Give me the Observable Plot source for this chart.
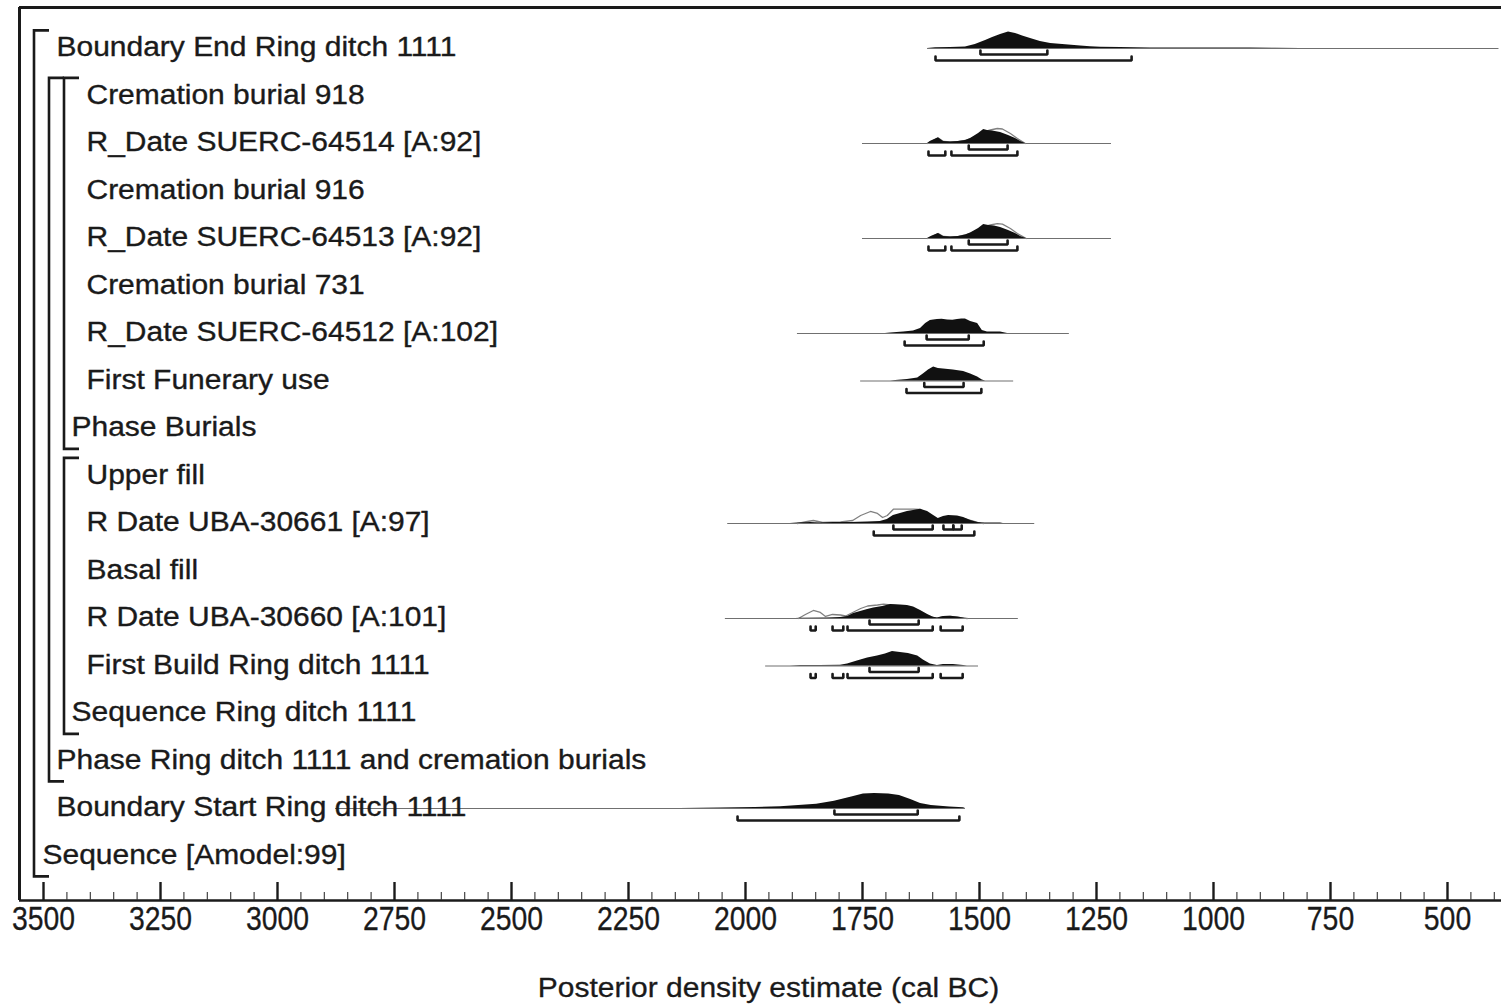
<!DOCTYPE html>
<html><head><meta charset="utf-8">
<script src="https://cdn.jsdelivr.net/npm/d3@7"></script>
<script src="https://cdn.jsdelivr.net/npm/@observablehq/plot@0.6"></script>
<style>html,body{margin:0;padding:0;background:#fff}</style>
</head><body><div id="chart"></div>
<script>
// ---------- data ----------
const rowLabels = [
  "Boundary End Ring ditch 1111",
  "Cremation burial 918",
  "R_Date SUERC-64514 [A:92]",
  "Cremation burial 916",
  "R_Date SUERC-64513 [A:92]",
  "Cremation burial 731",
  "R_Date SUERC-64512 [A:102]",
  "First Funerary use",
  "Phase Burials",
  "Upper fill",
  "R Date UBA-30661 [A:97]",
  "Basal fill",
  "R Date UBA-30660 [A:101]",
  "First Build Ring ditch 1111",
  "Sequence Ring ditch 1111",
  "Phase Ring ditch 1111 and cremation burials",
  "Boundary Start Ring ditch 1111",
  "Sequence [Amodel:99]"
];
const rowDepths = [1,3,3,3,3,3,3,3,2,3,3,3,3,3,2,1,1,0];
// groups: first child row, group label row, nesting depth
const groupFirst = [0, 1, 1, 9];
const groupLast  = [17, 15, 8, 14];
const groupDepth = [0, 1, 2, 2];

// posterior (black) and likelihood (outline) densities: [cal BC, relative density]
const endPost = [[1611,0],[1594,0.8],[1562,1],[1530,1.5],[1509,4],[1487,8],[1472,11],[1455,14],[1438,16.5],[1423,15],[1408,12.5],[1391,10],[1370,7],[1348,5],[1316,3.8],[1284,2.5],[1263,1.8],[1241,1.3],[1199,1],[1135,0.6],[1028,0.5],[921,0.4],[868,0.2],[814,0]];
const s64514Post = [[1611,0],[1605,2],[1588,5.7],[1577,2],[1562,1.5],[1545,2],[1530,3],[1519,5],[1502,10],[1491,14],[1483,13],[1472,12.5],[1455,11],[1438,8],[1423,5],[1412,2],[1402,0]];
const s64514Like = [[1611,0],[1605,2],[1588,5.5],[1577,2],[1562,1.5],[1545,2],[1530,3],[1519,5],[1502,9],[1491,11.5],[1477,13.5],[1462,15],[1451,14.5],[1434,10],[1419,5],[1402,0]];
const s64513Post = [[1611,0],[1603,2],[1588,5],[1577,2],[1562,1.5],[1545,2],[1530,3.5],[1519,5.5],[1502,10],[1491,14],[1480,13],[1468,12.5],[1455,11],[1438,8],[1423,5],[1412,2],[1400,0]];
const s64513Like = [[1611,0],[1603,2],[1588,5],[1577,2],[1562,1.5],[1545,2],[1530,3.5],[1519,5.5],[1502,9],[1491,11.5],[1477,13.5],[1462,14.8],[1451,14.3],[1434,10],[1419,5],[1400,0]];
const s64512Post = [[1701,0],[1690,0.5],[1662,1.5],[1641,2.5],[1626,5],[1615,10],[1605,13],[1598,13.5],[1590,14],[1580,14.2],[1568,13.5],[1557,13.2],[1547,14],[1538,14.6],[1530,14.5],[1519,12],[1504,10],[1494,3],[1483,1.5],[1455,1.5],[1440,0]];
const funeraryPost = [[1690,0],[1679,0.5],[1654,1.5],[1632,3],[1620,7],[1609,11],[1598,14],[1588,12.5],[1577,12],[1556,11],[1534,9.5],[1519,7],[1504,4],[1494,1],[1487,0]];
const u30661Post = [[1904,0],[1889,0.5],[1861,1],[1840,0.5],[1812,1],[1776,1],[1739,1.5],[1712,2],[1697,4],[1684,8],[1669,10],[1654,12],[1641,13],[1626,14.3],[1611,12],[1598,8],[1588,5],[1577,7],[1566,8],[1547,7.5],[1534,6],[1519,3],[1504,1],[1494,0.5],[1455,0.5],[1449,0]];
const u30661Like = [[1889,0],[1868,2],[1855,3],[1835,1],[1797,1.5],[1771,3],[1754,8],[1733,12],[1718,10],[1707,6],[1697,8],[1684,14.3],[1641,14.3],[1626,14],[1598,6],[1583,3],[1566,5],[1534,5],[1504,1],[1491,0]];
const u30660Post = [[1893,0],[1882,0.3],[1825,0.5],[1797,1],[1782,2],[1769,5],[1754,7],[1739,9],[1726,10.5],[1707,12],[1690,14],[1669,13.5],[1654,13],[1641,11.5],[1626,8],[1611,4],[1600,1.5],[1590,0.5],[1577,2],[1562,2.3],[1547,1.5],[1534,0.5],[1526,0]];
const u30660Like = [[1887,0],[1872,4],[1855,8],[1840,6],[1829,2],[1814,4],[1797,3.5],[1786,2.5],[1771,6],[1754,10],[1739,12.5],[1718,13.5],[1705,14.3],[1690,13.5],[1669,12.5],[1641,10.5],[1626,7],[1611,3.5],[1600,1.2],[1590,0.3],[1577,1.8],[1562,2],[1547,1.3],[1534,0.4],[1526,0]];
const buildPost = [[1904,0],[1882,0.5],[1840,0.5],[1797,0.8],[1782,2],[1761,5],[1739,8],[1718,10],[1701,12],[1686,14.5],[1669,13.5],[1652,12.5],[1632,10],[1620,6],[1605,2],[1590,0.5],[1577,1.5],[1556,1.5],[1534,0.5],[1526,0]];
const startPost = [[2139,0],[2053,0.4],[1979,1],[1925,1.8],[1848,4.3],[1810,7.2],[1771,11.8],[1748,14.5],[1724,15],[1694,14.5],[1671,13],[1647,9],[1626,5],[1603,2.9],[1564,1.4],[1534,0.7],[1530,0]];

// plotted ranges of each row (cal BC): start, end
const baseRows  = [0, 2, 4, 6, 7, 10, 12, 13, 16];
const baseFrom  = [1611, 1750, 1750, 1889, 1754, 2038, 2043, 1957, 2876];
const baseTo    = [390, 1218, 1218, 1308, 1427, 1382, 1417, 1502, 1530];

// highest posterior density ranges (cal BC)
const range68 = [
  [0, 1498, 1355], [2, 1523, 1440], [4, 1523, 1440], [6, 1613, 1523], [7, 1618, 1534],
  [10, 1684, 1600], [10, 1577, 1556], [10, 1556, 1538], [12, 1735, 1630], [13, 1735, 1630], [16, 1810, 1632]
];
const range95 = [
  [0, 1594, 1175], [2, 1609, 1573], [2, 1560, 1419], [4, 1609, 1573], [4, 1560, 1419],
  [6, 1660, 1491], [7, 1656, 1496], [10, 1726, 1511],
  [12, 1861, 1850], [12, 1814, 1791], [12, 1782, 1600], [12, 1583, 1536],
  [13, 1861, 1850], [13, 1814, 1791], [13, 1782, 1600], [13, 1583, 1536],
  [16, 2017, 1543]
];

const majorTicks = [3500, 3250, 3000, 2750, 2500, 2250, 2000, 1750, 1500, 1250, 1000, 750, 500];
const minorTicks = d3.range(3450, 350, -50).filter(v => v % 250 !== 0);
const xTitle = "Posterior density estimate (cal BC)";

// ---------- layout / styles ----------
const W = 1501, H = 1004;
const xDomain = [3551.3, 384.6];
const yDomain = [17.937, -0.863];
const rowPx = 47.5;             // pixels per row
const k = 1 / rowPx;            // density units -> rows
const frameH = 893;

const posts = [[0,endPost],[2,s64514Post],[4,s64513Post],[6,s64512Post],[7,funeraryPost],[10,u30661Post],[12,u30660Post],[13,buildPost],[16,startPost]];
const likes = [[2,s64514Like],[4,s64513Like],[10,u30661Like],[12,u30660Like]];

const postData = posts.flatMap(([row, pts]) => pts.map(([year, d]) => ({row, year, d})));
const likeData = likes.flatMap(([row, pts]) => pts.map(([year, d]) => ({row, year, d})));
const baseData = baseRows.map((row, i) => ({row, from: baseFrom[i], to: baseTo[i]}));
const rowTable = rowLabels.map((label, i) => ({label, row: i, depth: rowDepths[i]}));

function bracketPts(ranges, offPx, tag) {
  const out = [];
  ranges.forEach(([row, a, b], i) => {
    const yb = row + offPx * k, yt = yb - 4 * k;
    const id = tag + i;
    out.push({id, x: a, y: yt}, {id, x: a, y: yb}, {id, x: b, y: yb}, {id, x: b, y: yt});
  });
  return out;
}
const rangeData = [...bracketPts(range68, 6, "a"), ...bracketPts(range95, 12, "b")];

function groupBrackets(index, scales, values, dims) {
  const g = d3.create("svg:g").attr("fill", "none").attr("stroke", "#1a1a1a").attr("stroke-width", 2.6);
  groupFirst.forEach((first, i) => {
    const x0 = dims.marginLeft + 15 + groupDepth[i] * 15;
    const yT = scales.y(first - 0.37);
    const yB = scales.y(groupLast[i] + 0.44);
    g.append("path").attr("d", `M${x0 + 15},${yT}H${x0}V${yB}H${x0 + 15}`);
  });
  return g.node();
}

const labelDx = [23, 37, 52, 67];
const font = "'Liberation Sans', Arial, Helvetica, sans-serif";

const chart = Plot.plot({
  width: W, height: H,
  marginLeft: 19, marginRight: 0, marginTop: 7, marginBottom: H - 900,
  style: {fontFamily: font, background: "#fff", overflow: "visible"},
  x: {domain: xDomain, axis: null},
  y: {domain: yDomain, axis: null},
  marks: [
    Plot.ruleY(baseData, {y: "row", x1: "from", x2: "to", stroke: "#707070", strokeWidth: 1.2}),
    Plot.line(likeData, {x: "year", y: d => d.row - d.d * k, z: "row", stroke: "#808080", strokeWidth: 1.3}),
    Plot.areaY(postData, {x: "year", y1: "row", y2: d => d.row - d.d * k, z: "row", fill: "#111"}),
    Plot.line(rangeData, {x: "x", y: "y", z: "id", stroke: "#1a1a1a", strokeWidth: 2.6, strokeLinejoin: "miter", curve: "linear"}),
    groupBrackets,
    ...[0, 1, 2, 3].map(dep => Plot.text(rowTable.filter(r => r.depth === dep), {
      y: "row", text: "label", frameAnchor: "left", lineAnchor: "middle", dx: labelDx[dep], dy: -1,
      textAnchor: "start", fontSize: 27, fill: "#1a1a1a", stroke: "#1a1a1a", strokeWidth: 0.35
    })),
    // frame
    Plot.ruleY([yDomain[1]], {stroke: "#1a1a1a", strokeWidth: 3}),
    Plot.ruleY([yDomain[0]], {stroke: "#1a1a1a", strokeWidth: 2.6}),
    Plot.ruleX([xDomain[0]], {stroke: "#1a1a1a", strokeWidth: 3}),
    // ticks
    Plot.ruleX(majorTicks, {x: d => d, insetTop: frameH - 18, stroke: "#1a1a1a", strokeWidth: 2.4}),
    Plot.ruleX(minorTicks, {x: d => d, insetTop: frameH - 8, stroke: "#333", strokeWidth: 1.1}),
    Plot.text(majorTicks, {x: d => d, text: d => String(d), frameAnchor: "bottom", lineAnchor: "middle", dy: 19,
      fontSize: 33, fill: "#1a1a1a", stroke: "#1a1a1a", strokeWidth: 0.3}),
    Plot.text([xTitle], {text: d => d, frameAnchor: "bottom", lineAnchor: "middle", dx: 8, dy: 88, fontSize: 27,
      fill: "#1a1a1a", stroke: "#1a1a1a", strokeWidth: 0.3})
  ]
});
document.getElementById("chart").appendChild(chart);

// the reference typography: labels slightly stretched, tick numerals condensed
d3.select(chart).selectAll("text").each(function () {
  const t = this.textContent;
  const f = /^\d+$/.test(t) ? 0.86 : 1.11;
  const len = this.getComputedTextLength();
  if (len > 0) {
    this.setAttribute("textLength", (len * f).toFixed(1));
    this.setAttribute("lengthAdjust", "spacingAndGlyphs");
  }
});
</script>
</body></html>
